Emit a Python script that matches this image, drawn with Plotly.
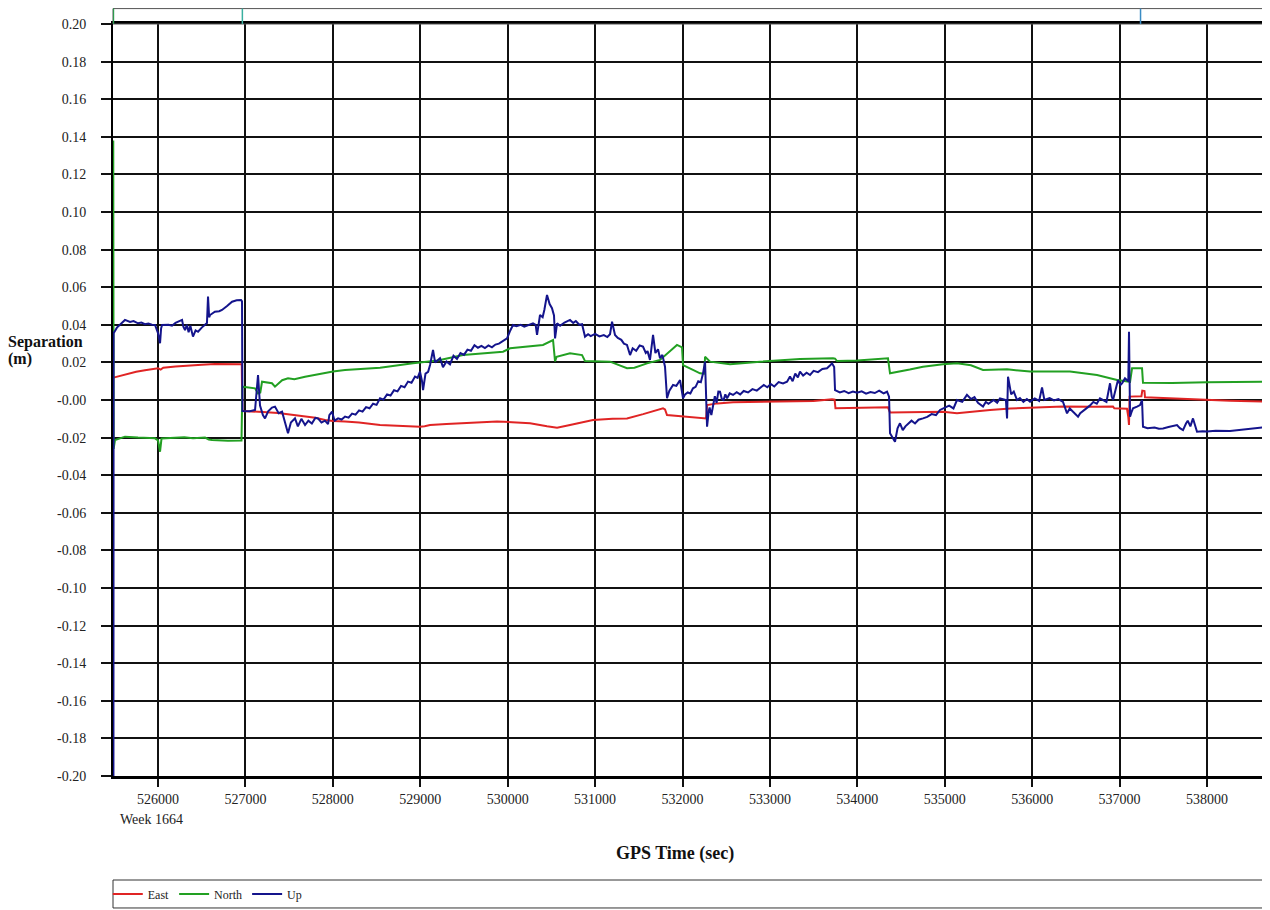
import plotly.graph_objects as go

# ---------------- data (GPS seconds, metres) ----------------
east_t = [525490, 525560, 525650, 525750, 525850, 525966, 526000, 526030, 526060, 526200,
          526350, 526500, 526650, 526800, 526938, 526958, 526965, 527110, 527200, 527373,
          527500, 527682, 527800, 527910, 528002, 528139, 528300, 528540, 528800, 528997,
          529050, 529112, 529300, 529489, 529700, 529878, 530050, 530256, 530450, 530565,
          530713, 530850, 530976, 531200, 531365, 531550, 531777, 531800, 531823, 531950,
          532120, 532270, 532281, 532400, 532578, 532887, 533196, 533500, 533711, 533740,
          533750, 534000, 534351, 534374, 534600, 534980, 535140, 535300, 535518, 535750,
          535976, 536100, 536353, 536700, 536925, 536940, 537085, 537100, 537108, 537115,
          537250, 537260, 537285, 537291, 537600, 537886, 538264, 538721]
east_v = [0.0119, 0.0128, 0.0140, 0.0150, 0.0158, 0.0165, 0.0169, 0.0162, 0.0172, 0.0178,
          0.0184, 0.0188, 0.0191, 0.0192, 0.0193, 0.0190, -0.0059, -0.0060, -0.0064, -0.0069,
          -0.0076, -0.0085, -0.0095, -0.0106, -0.0112, -0.0115, -0.0120, -0.0133, -0.0140, -0.0142,
          -0.0140, -0.0133, -0.0128, -0.0124, -0.0118, -0.0115, -0.0118, -0.0124, -0.0140, -0.0147,
          -0.0133, -0.0120, -0.0106, -0.0100, -0.0098, -0.0075, -0.0044, -0.0050, -0.0080, -0.0085,
          -0.0092, -0.0098, -0.0027, -0.0018, -0.0012, -0.0010, -0.0009, -0.0005, 0.0004, 0.0002,
          -0.0044, -0.0042, -0.0039, -0.0067, -0.0064, -0.0062, -0.0071, -0.0062, -0.0053, -0.0045,
          -0.0041, -0.0040, -0.0035, -0.0036, -0.0035, -0.0044, -0.0046, -0.0090, -0.0133, 0.0018,
          0.0020, 0.0050, 0.0048, 0.0014, 0.0008, 0.0004, -0.0004, -0.0009]

north_t = [525488, 525492, 525508, 525622, 525771, 525900, 525966, 526000, 526023, 526040,
           526160, 526300, 526400, 526538, 526580, 526618, 526800, 526938, 526955, 526965,
           527110, 527144, 527170, 527190, 527304, 527338, 527420, 527487, 527560, 527682,
           527876, 528002, 528139, 528540, 528917, 529200, 529489, 529947, 530027, 530404,
           530519, 530542, 530560, 530713, 530851, 530885, 531171, 531365, 531450, 531594,
           531743, 531850, 531937, 531995, 532006, 532120, 532200, 532250, 532258, 532315,
           532544, 532887, 533344, 533722, 533745, 533768, 534000, 534351, 534374, 534600,
           534751, 534980, 535140, 535300, 535438, 535713, 535976, 536433, 536742, 536971,
           537120, 537143, 537257, 537268, 537600, 538000, 538721]
north_v = [0.138, -0.0260, -0.0213, -0.0195, -0.0200, -0.0205, -0.0204, -0.0215, -0.0275, -0.0205,
           -0.0200, -0.0198, -0.0203, -0.0200, -0.0210, -0.0213, -0.0217, -0.0218, -0.0215, 0.0071,
           0.0062, 0.0035, 0.0040, 0.0097, 0.0089, 0.0071, 0.0105, 0.0115, 0.0110, 0.0124,
           0.0142, 0.0152, 0.0160, 0.0172, 0.0195, 0.0210, 0.0239, 0.0257, 0.0275, 0.0293,
           0.0319, 0.0205, 0.0230, 0.0248, 0.0239, 0.0207, 0.0204, 0.0169, 0.0172, 0.0195,
           0.0213, 0.0260, 0.0293, 0.0280, 0.0186, 0.0160, 0.0142, 0.0140, 0.0230, 0.0204,
           0.0190, 0.0204, 0.0218, 0.0222, 0.0220, 0.0207, 0.0210, 0.0222, 0.0142, 0.0162,
           0.0177, 0.0190, 0.0195, 0.0185, 0.0160, 0.0163, 0.0151, 0.0151, 0.0133, 0.0106,
           0.0097, 0.0169, 0.0169, 0.0092, 0.0090, 0.0094, 0.0097]

# Up component as (time, separation) readings
up_points = [
    (525490, -0.205), (525492, 0.0355), (525530, 0.0385), (525560, 0.0400), (525600, 0.0418),
    (525622, 0.0426), (525680, 0.0415), (525720, 0.0420), (525771, 0.0408), (525810, 0.0412),
    (525850, 0.0403), (525890, 0.0407), (525930, 0.0400), (525966, 0.0399), (526000, 0.0356),
    (526023, 0.0302), (526035, 0.0380), (526046, 0.0399), (526120, 0.0400), (526160, 0.0395),
    (526200, 0.0410), (526260, 0.0420), (526275, 0.0426), (526290, 0.0390), (526309, 0.0372),
    (526330, 0.0400), (526350, 0.0360), (526370, 0.0395), (526400, 0.0337), (526430, 0.0370),
    (526458, 0.0363), (526500, 0.0385), (526538, 0.0399), (526560, 0.0410), (526572, 0.0550),
    (526585, 0.0440), (526595, 0.0452), (526650, 0.0470), (526700, 0.0472), (526732, 0.0479),
    (526790, 0.0500), (526847, 0.0523), (526900, 0.0530), (526950, 0.0532), (526961, 0.0525),
    (526966, -0.0059), (527050, -0.0060), (527110, -0.0053), (527144, 0.0133), (527158, -0.0010),
    (527167, -0.0030), (527200, -0.0080), (527224, -0.0098), (527260, -0.0060), (527304, -0.0040),
    (527338, -0.0035), (527380, -0.0070), (527419, -0.0062), (527450, -0.0110), (527487, -0.0177),
    (527520, -0.0120), (527567, -0.0098), (527600, -0.0140), (527640, -0.0100), (527682, -0.0133),
    (527720, -0.0110), (527760, -0.0125), (527800, -0.0095), (527830, -0.0098), (527870, -0.0120),
    (527910, -0.0110), (527945, -0.0128), (527960, -0.0080), (527991, -0.0062), (528020, -0.0110),
    (528060, -0.0098), (528100, -0.0104), (528140, -0.0088), (528180, -0.0094), (528220, -0.0072),
    (528260, -0.0078), (528300, -0.0055), (528340, -0.0062), (528380, -0.0038), (528420, -0.0044),
    (528460, -0.0020), (528500, -0.0026), (528540, 0.0009), (528580, 0.0002), (528620, 0.0030),
    (528660, 0.0024), (528700, 0.0052), (528740, 0.0046), (528780, 0.0075), (528820, 0.0068),
    (528860, 0.0098), (528900, 0.0092), (528940, 0.0125), (528970, 0.0118), (528997, 0.0151),
    (529020, 0.0100), (529032, 0.0053), (529060, 0.0140), (529090, 0.0150), (529112, 0.0186),
    (529146, 0.0266), (529170, 0.0200), (529200, 0.0210), (529226, 0.0222), (529260, 0.0175),
    (529300, 0.0205), (529340, 0.0190), (529380, 0.0235), (529420, 0.0218), (529460, 0.0250),
    (529500, 0.0240), (529540, 0.0268), (529580, 0.0262), (529620, 0.0292), (529660, 0.0278),
    (529700, 0.0288), (529740, 0.0276), (529780, 0.0290), (529820, 0.0280), (529860, 0.0295),
    (529900, 0.0300), (529950, 0.0315), (529993, 0.0328), (530030, 0.0370), (530061, 0.0399),
    (530100, 0.0392), (530150, 0.0400), (530190, 0.0390), (530220, 0.0395), (530260, 0.0405),
    (530290, 0.0408), (530320, 0.0400), (530336, 0.0346), (530370, 0.0452), (530400, 0.0440),
    (530420, 0.0480), (530450, 0.0559), (530480, 0.0510), (530507, 0.0488), (530530, 0.0450),
    (530542, 0.0328), (530565, 0.0408), (530600, 0.0395), (530650, 0.0412), (530713, 0.0426),
    (530750, 0.0410), (530780, 0.0420), (530820, 0.0400), (530851, 0.0403), (530885, 0.0337),
    (530920, 0.0350), (530950, 0.0340), (531000, 0.0352), (531050, 0.0338), (531100, 0.0345),
    (531140, 0.0335), (531171, 0.0350), (531194, 0.0417), (531228, 0.0346), (531260, 0.0330),
    (531300, 0.0320), (531330, 0.0300), (531365, 0.0293), (531400, 0.0239), (531430, 0.0275),
    (531470, 0.0262), (531510, 0.0290), (531548, 0.0284), (531580, 0.0250), (531600, 0.0260),
    (531628, 0.0213), (531663, 0.0346), (531690, 0.0250), (531720, 0.0270), (531743, 0.0222),
    (531770, 0.0240), (531800, 0.0177), (531823, 0.0009), (531850, 0.0050), (531892, 0.0080),
    (531930, 0.0075), (531972, 0.0106), (532006, 0.0009), (532030, 0.0030), (532060, 0.0040),
    (532090, 0.0035), (532120, 0.0062), (532150, 0.0070), (532180, 0.0100), (532210, 0.0095),
    (532235, 0.0142), (532258, 0.0204), (532281, -0.0142), (532300, -0.0060), (532310, -0.0040),
    (532330, -0.0080), (532349, -0.0027), (532370, 0.0020), (532390, -0.0015), (532410, 0.0045),
    (532429, 0.0044), (532450, 0.0005), (532470, 0.0000), (532490, 0.0030), (532510, 0.0009),
    (532540, 0.0035), (532578, 0.0027), (532620, 0.0042), (532660, 0.0030), (532700, 0.0048),
    (532750, 0.0040), (532800, 0.0058), (532850, 0.0050), (532887, 0.0062), (532930, 0.0080),
    (532970, 0.0068), (533010, 0.0085), (533050, 0.0072), (533100, 0.0095), (533150, 0.0088),
    (533196, 0.0097), (533230, 0.0125), (533260, 0.0100), (533290, 0.0140), (533320, 0.0120),
    (533344, 0.0151), (533380, 0.0130), (533420, 0.0145), (533459, 0.0133), (533500, 0.0155),
    (533550, 0.0148), (533600, 0.0165), (533653, 0.0169), (533690, 0.0185), (533711, 0.0195),
    (533735, 0.0175), (533745, 0.0053), (533800, 0.0040), (533850, 0.0048), (533900, 0.0036),
    (533950, 0.0045), (533997, 0.0039), (534050, 0.0046), (534100, 0.0034), (534150, 0.0042),
    (534200, 0.0037), (534250, 0.0050), (534300, 0.0035), (534340, 0.0044), (534363, 0.0018),
    (534374, -0.0177), (534431, -0.0222), (534460, -0.0150), (534488, -0.0124), (534520, -0.0160),
    (534550, -0.0140), (534590, -0.0120), (534620, -0.0110), (534660, -0.0125), (534700, -0.0105),
    (534751, -0.0098), (534800, -0.0090), (534850, -0.0075), (534900, -0.0080), (534946, -0.0053),
    (535000, -0.0040), (535050, -0.0030), (535100, -0.0045), (535140, 0.0000), (535200, -0.0010),
    (535254, 0.0027), (535300, 0.0005), (535340, 0.0015), (535380, -0.0015), (535438, -0.0035),
    (535470, -0.0010), (535500, -0.0020), (535560, 0.0000), (535600, -0.0015), (535632, 0.0009),
    (535700, 0.0000), (535713, -0.0098), (535724, 0.0124), (535760, 0.0030), (535790, 0.0045),
    (535827, 0.0000), (535860, 0.0010), (535900, -0.0010), (535940, 0.0005), (535976, -0.0009),
    (536030, 0.0008), (536080, -0.0005), (536113, 0.0067), (536140, 0.0000), (536200, 0.0010),
    (536250, -0.0002), (536300, 0.0005), (536353, -0.0010), (536399, -0.0071), (536430, -0.0045),
    (536460, -0.0060), (536500, -0.0075), (536525, -0.0089), (536550, -0.0070), (536580, -0.0060),
    (536628, -0.0040), (536660, -0.0030), (536700, -0.0010), (536740, -0.0020), (536776, 0.0009),
    (536810, 0.0000), (536850, -0.0010), (536891, 0.0089), (536910, 0.0020), (536925, 0.0000),
    (536960, 0.0070), (536982, 0.0106), (537010, 0.0080), (537030, 0.0090), (537062, 0.0115),
    (537100, 0.0100), (537108, 0.0363), (537120, -0.0089), (537140, -0.0060), (537154, -0.0044),
    (537200, -0.0035), (537234, -0.0027), (537257, 0.0000), (537268, -0.0142), (537320, -0.0150),
    (537400, -0.0146), (537450, -0.0153), (537497, -0.0151), (537560, -0.0144), (537600, -0.0140),
    (537657, -0.0133), (537690, -0.0150), (537726, -0.0160), (537760, -0.0125), (537780, -0.0110),
    (537810, -0.0140), (537840, -0.0098), (537886, -0.0169), (537950, -0.0166), (538000, -0.0168),
    (538100, -0.0163), (538264, -0.0165), (538400, -0.0158), (538500, -0.0155), (538600, -0.0148),
    (538721, -0.0142),
]
up_t = [p[0] for p in up_points]
up_v = [p[1] for p in up_points]

x_tick_vals = [526000, 527000, 528000, 529000, 530000, 531000, 532000,
               533000, 534000, 535000, 536000, 537000, 538000]
x_tick_text = [str(v) for v in x_tick_vals]
y_tick_vals = [0.20, 0.18, 0.16, 0.14, 0.12, 0.10, 0.08, 0.06, 0.04, 0.02, 0.0,
               -0.02, -0.04, -0.06, -0.08, -0.10, -0.12, -0.14, -0.16, -0.18, -0.20]
y_tick_text = ["0.20", "0.18", "0.16", "0.14", "0.12", "0.10", "0.08", "0.06", "0.04", "0.02",
               "-0.00", "-0.02", "-0.04", "-0.06", "-0.08", "-0.10", "-0.12", "-0.14", "-0.16",
               "-0.18", "-0.20"]
event_times = [525490, 526965, 537240]
event_colors = ["#2e9a4e", "#3ab0a0", "#3a8cc4"]

x_range = [525485, 538721]
FONT = "Liberation Serif, Times New Roman, serif"

fig = go.Figure()
fig.add_trace(go.Scatter(x=east_t, y=east_v, mode="lines", name="East",
                         line=dict(color="#e02424", width=2)))
fig.add_trace(go.Scatter(x=north_t, y=north_v, mode="lines", name="North",
                         line=dict(color="#22a022", width=2)))
fig.add_trace(go.Scatter(x=up_t, y=up_v, mode="lines", name="Up",
                         line=dict(color="#14148c", width=2)))

shapes = [
    # top event strip
    dict(type="rect", xref="paper", yref="paper", x0=0, x1=1.01, y0=1.0, y1=1.0205,
         line=dict(color="#555555", width=1), fillcolor="rgba(0,0,0,0)", layer="above"),
    # legend box
    dict(type="rect", xref="paper", yref="paper", x0=0, x1=1.01, y0=-0.1755, y1=-0.1383,
         line=dict(color="#333333", width=1), fillcolor="rgba(0,0,0,0)"),
]
for t, c in zip(event_times, event_colors):
    shapes.append(dict(type="line", xref="x", yref="paper", x0=t, x1=t, y0=1.0, y1=1.0205,
                       line=dict(color=c, width=1.5)))

fig.update_layout(
    width=1262, height=902,
    margin=dict(l=105, r=0, t=16, b=134),
    paper_bgcolor="white", plot_bgcolor="white",
    font=dict(family=FONT, size=14, color="#222222"),
    showlegend=True,
    legend=dict(orientation="h", x=-0.0045, y=-0.157, xanchor="left", yanchor="middle",
                font=dict(family=FONT, size=12, color="#222222"),
                bgcolor="rgba(0,0,0,0)", borderwidth=0, itemwidth=30, tracegroupgap=0),
    shapes=shapes,
    xaxis=dict(range=x_range, tickmode="array", tickvals=x_tick_vals, ticktext=x_tick_text,
               showgrid=True, gridcolor="#111111", gridwidth=1.8,
               ticks="outside", ticklen=8, tickwidth=1.5, tickcolor="#111111",
               showline=True, linecolor="#000000", linewidth=3, mirror=True,
               zeroline=False, tickfont=dict(family=FONT, size=14, color="#222222")),
    yaxis=dict(range=[-0.20, 0.20], tickmode="array", tickvals=y_tick_vals, ticktext=y_tick_text,
               showgrid=True, gridcolor="#111111", gridwidth=1.8,
               ticks="outside", ticklen=10, tickwidth=1.5, tickcolor="#111111",
               ticklabelstandoff=12,
               showline=True, linecolor="#000000", linewidth=2, mirror=False,
               zeroline=False, tickfont=dict(family=FONT, size=14, color="#222222")),
    annotations=[
        dict(text="<b>Separation</b>", xref="paper", yref="paper",
             x=-0.0925, y=0.5765, xanchor="left", yanchor="middle", align="left",
             showarrow=False, font=dict(family=FONT, size=16, color="#111111")),
        dict(text="<b>(m)</b>", xref="paper", yref="paper",
             x=-0.0925, y=0.5545, xanchor="left", yanchor="middle", align="left",
             showarrow=False, font=dict(family=FONT, size=16, color="#111111")),
        dict(text="<b>GPS Time (sec)</b>", xref="paper", yref="paper",
             x=0.486, y=-0.1024, xanchor="center", yanchor="middle",
             showarrow=False, font=dict(family=FONT, size=18, color="#111111")),
        dict(text="Week 1664", xref="paper", yref="paper",
             x=0.0043, y=-0.0585, xanchor="left", yanchor="middle",
             showarrow=False, font=dict(family=FONT, size=14, color="#222222")),
    ],
)

fig.write_html("out.html")
